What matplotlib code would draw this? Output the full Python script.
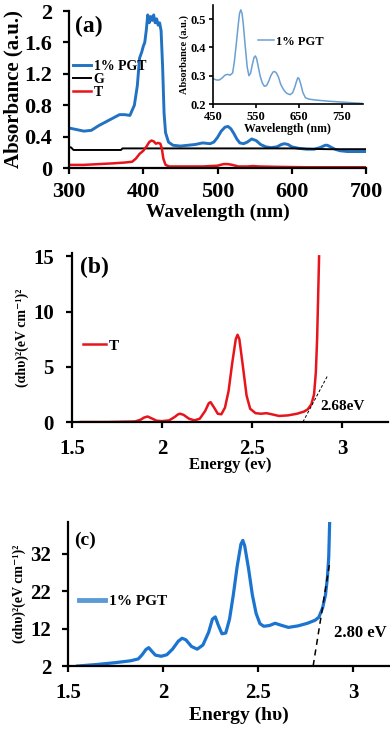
import matplotlib
matplotlib.use("Agg")
import matplotlib.pyplot as plt

plt.rcParams['font.family'] = ['Liberation Serif', 'DejaVu Serif']
plt.rcParams['font.weight'] = 'bold'
plt.rcParams['axes.labelweight'] = 'bold'

# panel (a): absorbance spectra
wlPGT = [300, 310, 320, 330, 340, 350, 360, 368, 375, 382, 388, 392, 395, 398, 400, 402, 404,
         406, 408, 410, 412, 414, 416, 418, 420, 422, 424, 426, 428, 430, 434, 440, 450,
         460, 470, 480, 490, 495, 500, 505, 510, 514, 518, 522, 526, 530, 535, 540, 546,
         552, 558, 565, 572, 580, 586, 590, 595, 600, 610, 620, 630, 638, 645, 648, 652,
         658, 665, 675, 690, 700]
absPGT = [0.51, 0.49, 0.47, 0.48, 0.54, 0.59, 0.64, 0.68, 0.68, 0.67, 0.80, 1.05, 1.40, 1.48,
          1.55, 1.60, 1.75, 1.95, 1.85, 1.93, 1.88, 1.95, 1.85, 1.90, 1.82, 1.85, 1.75, 1.30,
          0.70, 0.45, 0.33, 0.29, 0.28, 0.29, 0.30, 0.32, 0.31, 0.33, 0.39, 0.47, 0.52, 0.53,
          0.50, 0.44, 0.37, 0.32, 0.31, 0.33, 0.37, 0.35, 0.30, 0.27, 0.26, 0.27, 0.30, 0.31,
          0.30, 0.27, 0.25, 0.24, 0.24, 0.26, 0.29, 0.29, 0.27, 0.24, 0.22, 0.21, 0.21, 0.21]
wlG = [300, 303, 306, 330, 360, 370, 372, 400, 450, 500, 550, 600, 650, 700]
absG = [0.27, 0.26, 0.23, 0.23, 0.23, 0.23, 0.25, 0.25, 0.25, 0.25, 0.25, 0.25, 0.24, 0.24]
wlT = [300, 320, 340, 360, 375, 385, 390, 395, 400, 404, 408, 411, 414, 417, 420, 423, 425,
       427, 430, 435, 445, 480, 500, 508, 514, 520, 528, 540, 548, 556, 580, 620, 660, 700]
absT = [0.04, 0.04, 0.05, 0.06, 0.07, 0.08, 0.12, 0.18, 0.22, 0.27, 0.33, 0.35, 0.34, 0.31,
        0.32, 0.31, 0.25, 0.12, 0.04, 0.02, 0.02, 0.02, 0.03, 0.05, 0.05, 0.04, 0.02, 0.02,
        0.025, 0.02, 0.015, 0.01, 0.01, 0.01]

# inset
wlIn = [450, 458, 465, 472, 478, 484, 490, 496, 500, 505, 509, 512, 515, 518, 521, 525, 530,
        534, 538, 542, 546, 549, 552, 556, 560, 565, 570, 575, 580, 585, 590, 594, 598, 603,
        608, 615, 622, 630, 636, 641, 645, 648, 651, 655, 660, 666, 675, 690, 720, 760, 800]
absIn = [0.29, 0.285, 0.285, 0.293, 0.302, 0.305, 0.302, 0.31, 0.35, 0.42, 0.48, 0.52, 0.533,
         0.52, 0.48, 0.41, 0.33, 0.30, 0.31, 0.34, 0.365, 0.37, 0.36, 0.33, 0.30, 0.275, 0.263,
         0.265, 0.28, 0.30, 0.313, 0.315, 0.31, 0.295, 0.27, 0.25, 0.238, 0.233, 0.24, 0.26,
         0.28, 0.293, 0.29, 0.27, 0.24, 0.222, 0.217, 0.214, 0.21, 0.206, 0.202]

# panel (b): T
eT = [1.55, 1.7, 1.85, 1.88, 1.9, 1.92, 1.94, 1.97, 2.0, 2.04, 2.07, 2.09, 2.1, 2.12, 2.15,
      2.18, 2.21, 2.24, 2.26, 2.27, 2.29, 2.31, 2.33, 2.35, 2.37, 2.39, 2.41, 2.42, 2.43,
      2.45, 2.47, 2.49, 2.52, 2.55, 2.58, 2.61, 2.65, 2.7, 2.75, 2.79, 2.81, 2.83, 2.845,
      2.855, 2.862, 2.868, 2.873]
yT = [0.0, 0.0, 0.05, 0.2, 0.4, 0.5, 0.35, 0.12, 0.08, 0.15, 0.45, 0.7, 0.75, 0.65, 0.3, 0.15,
      0.3, 1.0, 1.7, 1.8, 1.3, 0.75, 0.7, 1.3, 2.8, 5.3, 7.5, 7.9, 7.5, 5.0, 2.4, 1.2, 0.8, 0.75,
      0.8, 0.7, 0.55, 0.6, 0.75, 0.95, 1.15, 1.6, 2.5, 4.5, 7.5, 11.5, 15.0]

# panel (c): 1% PGT
ePGT = [1.55, 1.65, 1.75, 1.83, 1.87, 1.89, 1.91, 1.925, 1.94, 1.96, 1.99, 2.02, 2.05, 2.08,
        2.1, 2.12, 2.15, 2.18, 2.21, 2.24, 2.26, 2.275, 2.29, 2.31, 2.33, 2.35, 2.37, 2.39,
        2.41, 2.42, 2.43, 2.45, 2.47, 2.49, 2.51, 2.53, 2.56, 2.59, 2.62, 2.66, 2.71, 2.76,
        2.8, 2.82, 2.84, 2.855, 2.865, 2.872, 2.877]
yPGT = [2.0, 2.4, 2.9, 3.4, 3.9, 5.0, 6.4, 6.9, 6.0, 4.9, 4.6, 5.0, 6.5, 8.6, 9.4, 9.0, 7.2,
        6.5, 7.6, 11.0, 14.5, 15.1, 13.0, 10.6, 10.8, 14.5, 21.0, 28.5, 34.5, 35.5, 34.0,
        28.0, 21.0, 16.0, 13.3, 12.6, 12.8, 13.4, 12.9, 12.3, 12.7, 13.4, 14.2, 15.0, 17.5,
        21.0, 25.5, 31.0, 40.4]

# band-gap tangents
tanT_x = [2.783, 2.922]
tanT_y = [0.0, 4.25]
tanPGT_x = [2.79, 2.875]
tanPGT_y = [2.0, 28.9]

blue = '#2272c3'
red = '#e8141b'

fig = plt.figure(figsize=(3.9, 7.29), dpi=100)


def style(ax, fs=15, lw=1.6, xpad=5, ypad=6):
    ax.spines['top'].set_visible(False)
    ax.spines['right'].set_visible(False)
    ax.spines['left'].set_linewidth(lw)
    ax.spines['bottom'].set_linewidth(lw)
    ax.tick_params(direction='out', length=4, width=lw, labelsize=fs)
    ax.tick_params(axis='x', pad=xpad)
    ax.tick_params(axis='y', pad=ypad)
    for t in ax.get_xticklabels() + ax.get_yticklabels():
        t.set_fontweight('bold')


# (a)
axA = fig.add_axes([0.177, 0.7695, 0.7615, 0.2154])
axA.plot(wlPGT, absPGT, color=blue, lw=2.1, label='1% PGT')
axA.plot(wlG, absG, color='black', lw=1.4, label='G')
axA.plot(wlT, absT, color=red, lw=1.8, label='T')
axA.set_xlim(300, 700)
axA.set_ylim(0, 2.0)
axA.set_xticks([300, 400, 500, 600, 700])
axA.set_yticks([0, 0.4, 0.8, 1.2, 1.6, 2])
axA.set_yticklabels(['0', '0.4', '0.8', '1.2', '1.6', '2'])
style(axA, fs=16, xpad=6, ypad=8)
axA.set_xlabel('Wavelength (nm)', fontsize=14, fontweight='bold', labelpad=1)
axA.set_ylabel('Absorbance (a.u.)', fontsize=15, fontweight='bold', labelpad=1)
axA.text(0.02, 0.97, '(a)', transform=axA.transAxes, fontsize=17, fontweight='bold',
         va='top', ha='left')
axA.legend(loc='upper left', bbox_to_anchor=(-0.02, 0.75), frameon=False,
           handlelength=1.3, handletextpad=0.2, labelspacing=0.0, borderpad=0.2,
           prop={'weight': 'bold', 'size': 10})

axIn = fig.add_axes([0.546, 0.8573, 0.3846, 0.1358])
axIn.plot(wlIn, absIn, color='#6aa0d3', lw=1.1, label='1% PGT')
axIn.set_xlim(450, 800)
axIn.set_ylim(0.2, 0.55)
axIn.set_xticks([450, 550, 650, 750])
axIn.set_yticks([0.2, 0.3, 0.4, 0.5])
style(axIn, fs=9, lw=1.2, xpad=2, ypad=2)
axIn.tick_params(length=3)
axIn.set_xlabel('Wavelength (nm)', fontsize=8.5, fontweight='bold', labelpad=0)
axIn.set_ylabel('Absorbance (a.u.)', fontsize=7.5, fontweight='bold', labelpad=1)
axIn.legend(loc='center left', bbox_to_anchor=(0.24, 0.63), frameon=False,
            handlelength=1.3, handletextpad=0.2, borderpad=0.2,
            prop={'weight': 'bold', 'size': 9})

# (b)
axB = fig.add_axes([0.1846, 0.4211, 0.8103, 0.2318])
axB.plot(eT, yT, color=red, lw=1.8, label='T')
axB.plot(tanT_x, tanT_y, color='black', lw=0.7, ls=(0, (3, 2)))
axB.set_xlim(1.5, 3.256)
axB.set_ylim(0, 15.3)
axB.set_xticks([1.5, 2, 2.5, 3])
axB.set_xticklabels(['1.5', '2', '2.5', '3'])
axB.set_yticks([0, 5, 10, 15])
style(axB, fs=15, xpad=8, ypad=9)
axB.set_xlabel('Energy (ev)', fontsize=12, fontweight='bold', labelpad=-1)
axB.set_ylabel('(αhυ)²(eV cm⁻¹)²', fontsize=10, fontweight='bold', labelpad=3)
axB.text(0.025, 0.98, '(b)', transform=axB.transAxes, fontsize=17, fontweight='bold',
         va='top', ha='left')
axB.text(2.88, 1.4, '2.68eV', fontsize=11, fontweight='bold', va='center', ha='left')
axB.legend(loc='center left', bbox_to_anchor=(0.0, 0.45), frameon=False,
           handlelength=1.5, handletextpad=0.2, borderpad=0.2,
           prop={'weight': 'bold', 'size': 11})

# (c)
axC = fig.add_axes([0.1744, 0.0864, 0.877, 0.1975])
axC.plot(ePGT, yPGT, color='#1a74d0', lw=2.3, label='1% PGT')
axC.plot(tanPGT_x, tanPGT_y, color='black', lw=1.1, ls=(0, (4, 3)))
axC.set_xlim(1.5, 3.3)
axC.set_ylim(2, 40.4)
axC.set_xticks([1.5, 2, 2.5, 3])
axC.set_xticklabels(['1.5', '2', '2.5', '3'])
axC.set_yticks([2, 12, 22, 32])
style(axC, fs=15, xpad=8, ypad=8)
axC.set_xlabel('Energy (hυ)', fontsize=14, fontweight='bold', labelpad=3)
axC.set_ylabel('(αhυ)²(eV cm⁻¹)²', fontsize=10, fontweight='bold', labelpad=3)
axC.text(0.018, 0.93, '(c)', transform=axC.transAxes, fontsize=14, fontweight='bold',
         va='top', ha='left')
axC.text(2.9, 10.8, '2.80 eV', fontsize=12, fontweight='bold', va='center', ha='left')
legC = axC.legend(loc='center left', bbox_to_anchor=(0.0, 0.45), frameon=False,
                  handlelength=1.7, handletextpad=0.3, borderpad=0.2,
                  prop={'weight': 'bold', 'size': 11})
for h in legC.get_lines():
    h.set_color('#5b9bd5')
    h.set_linewidth(3.5)

fig.savefig('out.png', dpi=100)
